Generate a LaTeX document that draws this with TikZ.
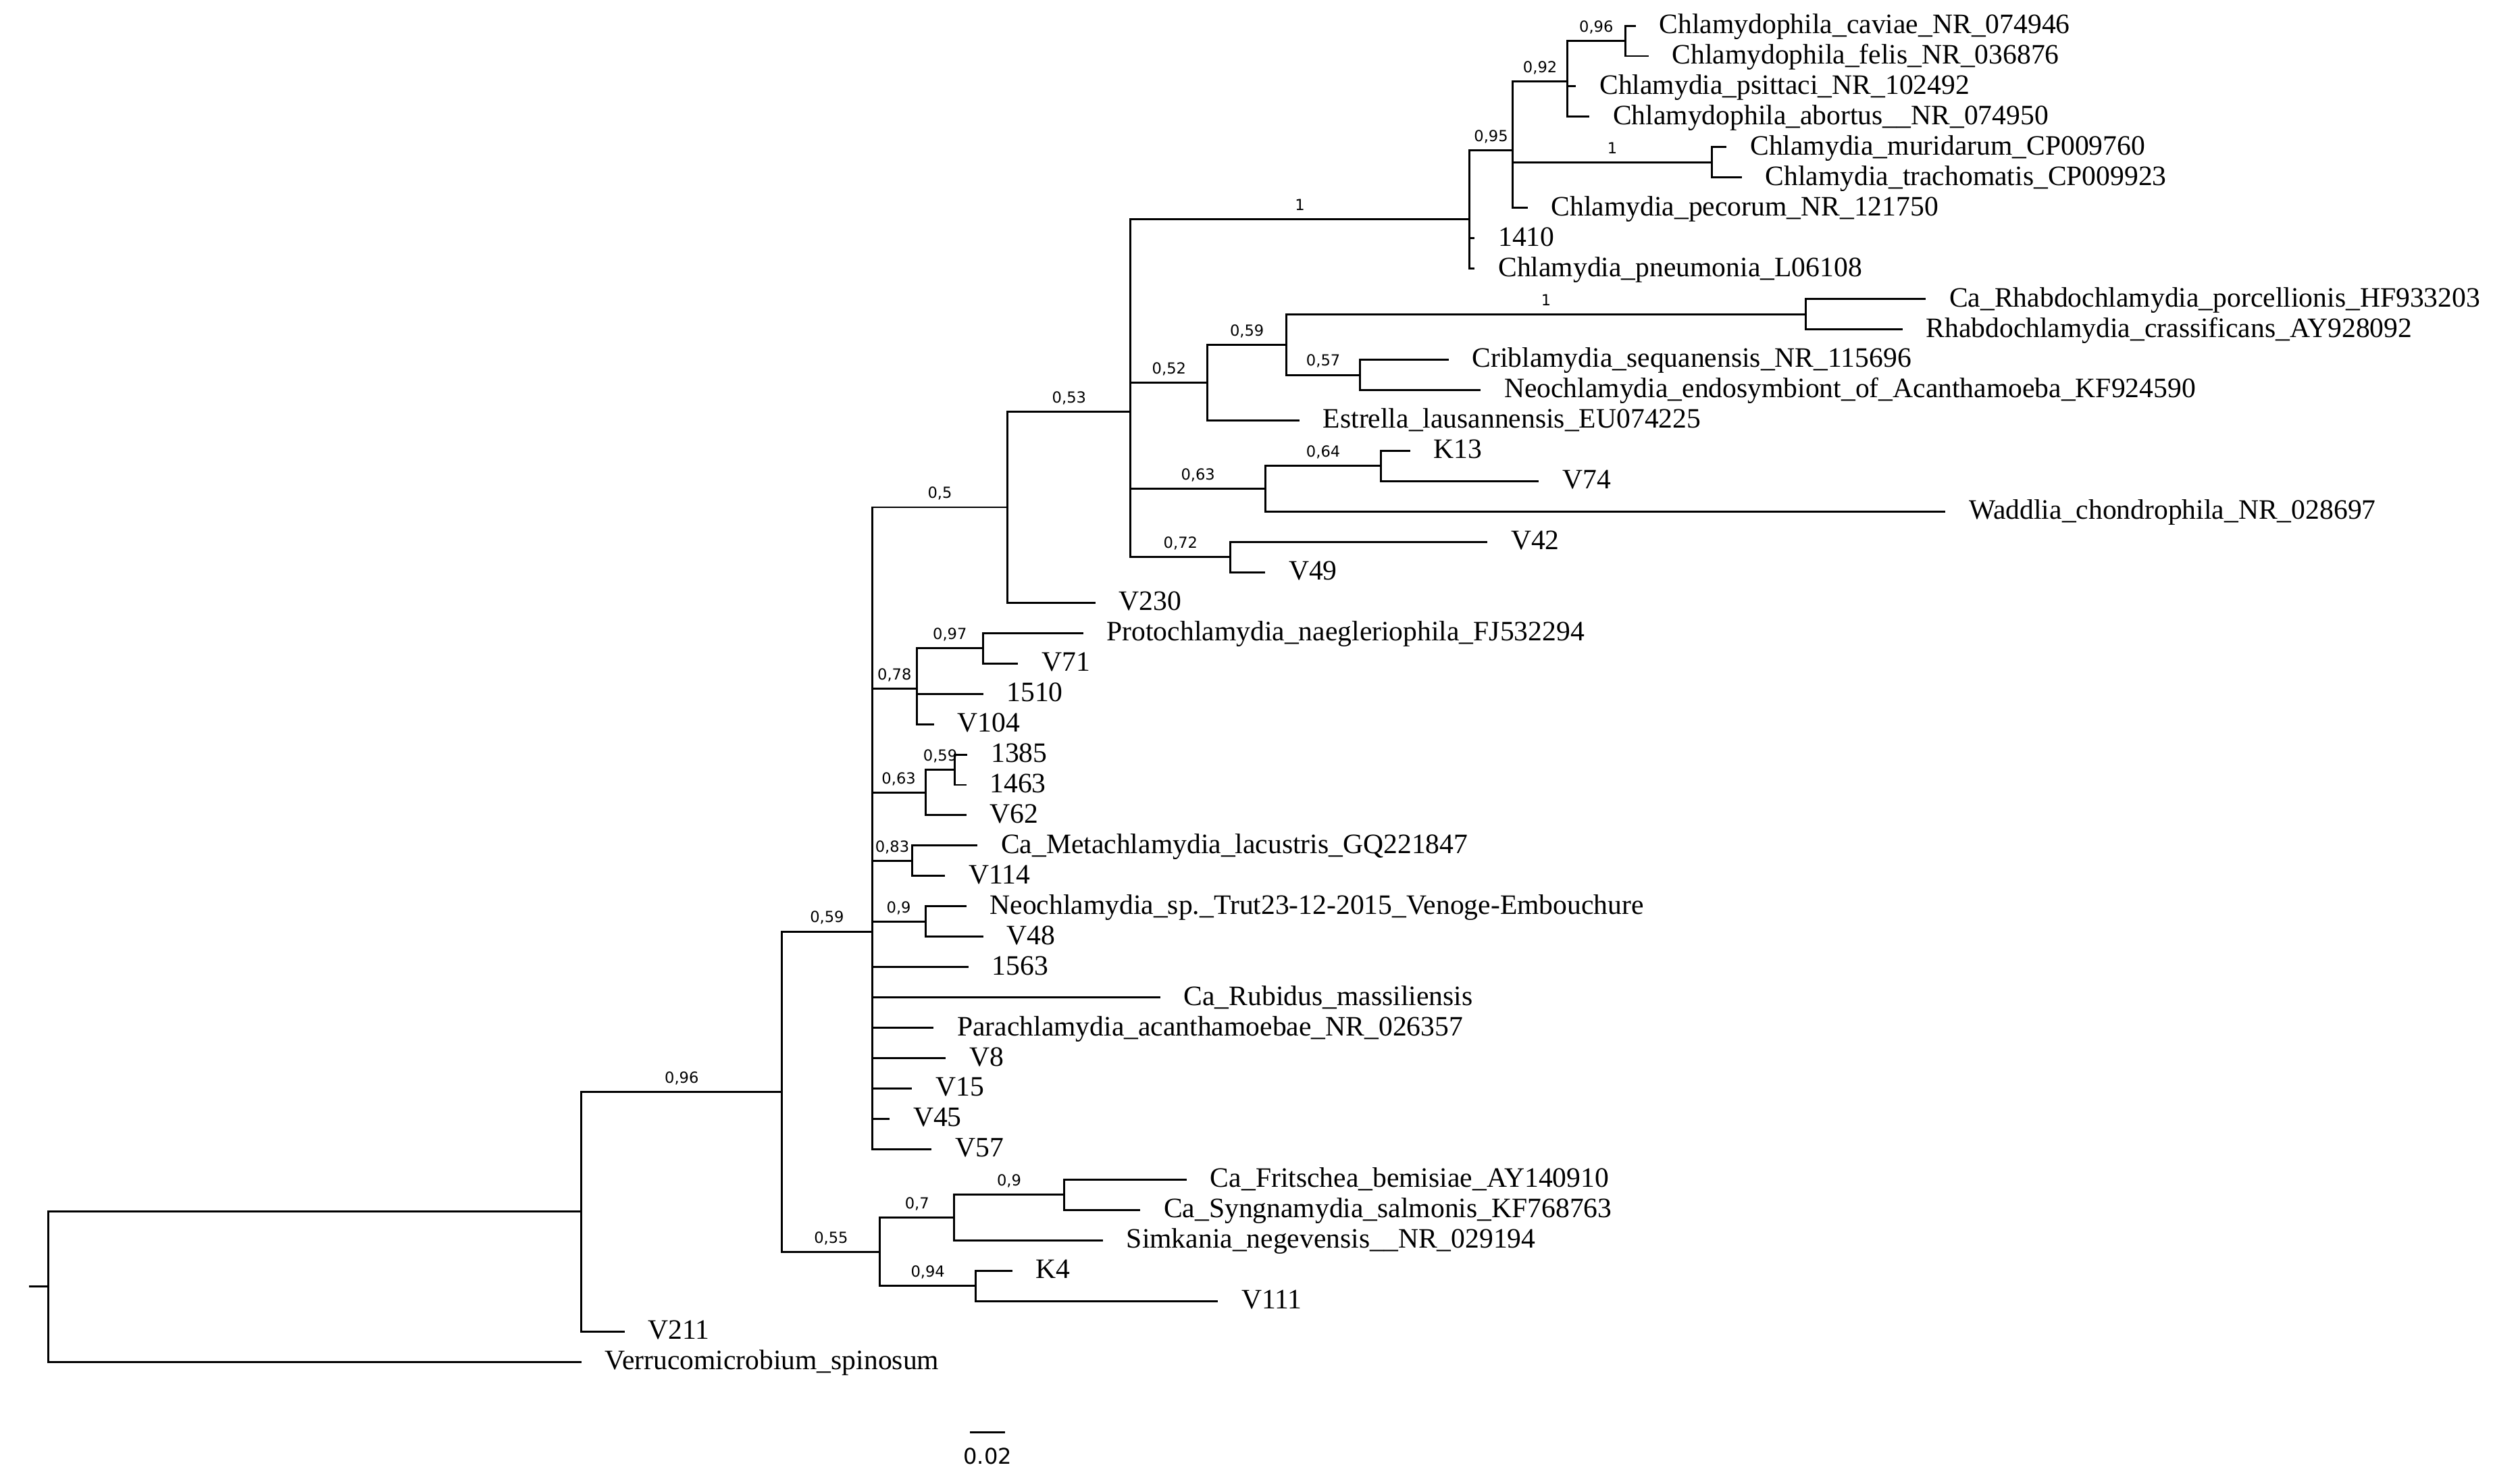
\documentclass[tikz,border=0pt]{standalone}
\usepackage{fontspec}
\setmainfont{Liberation Serif}
\newfontfamily\suppfamily{DejaVu Sans}
\newcommand{\taxonfont}{\fontsize{17.5}{20}\selectfont}
\newcommand{\suppfont}{\suppfamily\fontsize{9.5}{11}\selectfont}
\newcommand{\barfont}{\suppfamily\fontsize{13.5}{15}\selectfont}

\begin{document}
\begin{tikzpicture}[
		x=1pt,y=-1pt,
		clade/.style = {draw, line width=1.25pt, to path={|- (\tikztotarget) \tikztonodes}},
		taxon/.style = {anchor=west, inner xsep=14.5pt, inner ysep=0pt, text height=10pt, text depth=0.4pt, font=\taxonfont},
		supp/.style = {anchor=base, inner sep=0pt, yshift=5.5pt, pos=0.75, font=\suppfont}
	]
	\useasboundingbox (0,0) rectangle (1568,924);

	\coordinate (stub) at (18,801.21);
	\coordinate (root) at (30,801.21);
	\coordinate (nA) at (362,754.42);
	\coordinate (nB) at (487,679.74);
	\coordinate (nC) at (543,580.03);
	\coordinate (nD) at (627.5,315.87);
	\coordinate (nE) at (704,256.48);
	\coordinate (nF) at (915,136.46);
	\coordinate (n095) at (942,93.74);
	\coordinate (n092) at (976,50.67);
	\coordinate (n096) at (1012,25.45);
	\coordinate (nMur) at (1066,101.10);
	\coordinate (n052) at (752,238.18);
	\coordinate (n059a) at (801,214.55);
	\coordinate (nRha) at (1124.6,195.64);
	\coordinate (n057) at (847,233.45);
	\coordinate (n063a) at (788,304.36);
	\coordinate (n064) at (860,290.18);
	\coordinate (n072) at (766.3,346.91);
	\coordinate (n078) at (571,428.85);
	\coordinate (n097) at (612,403.64);
	\coordinate (n063b) at (576.3,493.45);
	\coordinate (n059b) at (594.7,479.27);
	\coordinate (n083) at (568.2,536.00);
	\coordinate (n090a) at (576.3,573.82);
	\coordinate (n055) at (548,779.45);
	\coordinate (n070) at (594.2,758.18);
	\coordinate (n090b) at (662.6,744.00);
	\coordinate (n094) at (607.5,800.73);

	\node (caviae) [taxon] at (1018.6,16.00) {Chlamydophila\_caviae\_NR\_074946};
	\node (felis) [taxon] at (1026.5,34.91) {Chlamydophila\_felis\_NR\_036876};
	\node (psittaci) [taxon] at (981.4,53.82) {Chlamydia\_psittaci\_NR\_102492};
	\node (abortus) [taxon] at (989.7,72.73) {Chlamydophila\_abortus\_\_NR\_074950};
	\node (muridarum) [taxon] at (1075.2,91.64) {Chlamydia\_muridarum\_CP009760};
	\node (trachomatis) [taxon] at (1084.6,110.55) {Chlamydia\_trachomatis\_CP009923};
	\node (pecorum) [taxon] at (951.3,129.45) {Chlamydia\_pecorum\_NR\_121750};
	\node (t1410) [taxon] at (918.3,148.36) {1410};
	\node (pneumonia) [taxon] at (918.3,167.27) {Chlamydia\_pneumonia\_L06108};
	\node (porcellionis) [taxon] at (1199.2,186.18) {Ca\_Rhabdochlamydia\_porcellionis\_HF933203};
	\node (crassificans) [taxon] at (1184.7,205.09) {Rhabdochlamydia\_crassificans\_AY928092};
	\node (criblamydia) [taxon] at (902,224.00) {Criblamydia\_sequanensis\_NR\_115696};
	\node (neoendo) [taxon] at (922,242.91) {Neochlamydia\_endosymbiont\_of\_Acanthamoeba\_KF924590};
	\node (estrella) [taxon] at (809.2,261.82) {Estrella\_lausannensis\_EU074225};
	\node (k13) [taxon] at (878,280.73) {K13};
	\node (v74) [taxon] at (958.3,299.64) {V74};
	\node (waddlia) [taxon] at (1211.5,318.55) {Waddlia\_chondrophila\_NR\_028697};
	\node (v42) [taxon] at (926.2,337.45) {V42};
	\node (v49) [taxon] at (787.8,356.36) {V49};
	\node (v230) [taxon] at (682,375.27) {V230};
	\node (proto) [taxon] at (674.5,394.18) {Protochlamydia\_naegleriophila\_FJ532294};
	\node (v71) [taxon] at (634,413.09) {V71};
	\node (t1510) [taxon] at (612.2,432.00) {1510};
	\node (v104) [taxon] at (581.5,450.91) {V104};
	\node (t1385) [taxon] at (602.4,469.82) {1385};
	\node (t1463) [taxon] at (601.7,488.73) {1463};
	\node (v62) [taxon] at (601.7,507.64) {V62};
	\node (metachl) [taxon] at (608.7,526.55) {Ca\_Metachlamydia\_lacustris\_GQ221847};
	\node (v114) [taxon] at (588.5,545.45) {V114};
	\node (neosp) [taxon] at (601.7,564.36) {Neochlamydia\_sp.\_Trut23-12-2015\_Venoge-Embouchure};
	\node (v48) [taxon] at (612.2,583.27) {V48};
	\node (t1563) [taxon] at (603,602.18) {1563};
	\node (rubidus) [taxon] at (722.5,621.09) {Ca\_Rubidus\_massiliensis};
	\node (parachl) [taxon] at (581.4,640.00) {Parachlamydia\_acanthamoebae\_NR\_026357};
	\node (v8) [taxon] at (589,658.91) {V8};
	\node (v15) [taxon] at (568,677.82) {V15};
	\node (v45) [taxon] at (554,696.73) {V45};
	\node (v57) [taxon] at (580.2,715.64) {V57};
	\node (fritschea) [taxon] at (739,734.55) {Ca\_Fritschea\_bemisiae\_AY140910};
	\node (syngnamydia) [taxon] at (710,753.45) {Ca\_Syngnamydia\_salmonis\_KF768763};
	\node (simkania) [taxon] at (686.8,772.36) {Simkania\_negevensis\_\_NR\_029194};
	\node (k4) [taxon] at (630.4,791.27) {K4};
	\node (v111) [taxon] at (758.4,810.18) {V111};
	\node (v211) [taxon] at (389,829.09) {V211};
	\node (verruco) [taxon] at (362,848.00) {Verrucomicrobium\_spinosum};

	\coordinate (barl) at (604,891.8);
	\coordinate (barr) at (626,891.8);
	\node (bartext) [anchor=base, inner sep=0pt, font=\barfont] at (615,911.5) {0.02};

	\draw [line width=1.25pt] (stub) -- (root);
	\path [clade] (root) edge (nA);
	\path [clade] (root) edge (verruco.west);
	\path [clade] (nA) edge node [supp] {0,96} (nB);
	\path [clade] (nA) edge (v211.west);
	\path [clade] (nB) edge node [supp] {0,59} (nC);
	\path [clade] (nB) edge node [supp] {0,55} (n055);
	\path [clade] (nC) edge node [supp] {0,5} (nD);
	\path [clade] (nD) edge node [supp] {0,53} (nE);
	\path [clade] (nD) edge (v230.west);
	\path [clade] (nE) edge node [supp] {1} (nF);
	\path [clade] (nE) edge node [supp] {0,52} (n052);
	\path [clade] (nE) edge node [supp] {0,63} (n063a);
	\path [clade] (nE) edge node [supp] {0,72} (n072);
	\path [clade] (nF) edge node [supp] {0,95} (n095);
	\path [clade] (nF) edge (t1410.west);
	\path [clade] (nF) edge (pneumonia.west);
	\path [clade] (n095) edge node [supp] {0,92} (n092);
	\path [clade] (n095) edge node [supp] {1} (nMur);
	\path [clade] (n095) edge (pecorum.west);
	\path [clade] (n092) edge node [supp] {0,96} (n096);
	\path [clade] (n092) edge (psittaci.west);
	\path [clade] (n092) edge (abortus.west);
	\path [clade] (n096) edge (caviae.west);
	\path [clade] (n096) edge (felis.west);
	\path [clade] (nMur) edge (muridarum.west);
	\path [clade] (nMur) edge (trachomatis.west);
	\path [clade] (n052) edge node [supp] {0,59} (n059a);
	\path [clade] (n052) edge (estrella.west);
	\path [clade] (n059a) edge node [supp] {1} (nRha);
	\path [clade] (n059a) edge node [supp] {0,57} (n057);
	\path [clade] (nRha) edge (porcellionis.west);
	\path [clade] (nRha) edge (crassificans.west);
	\path [clade] (n057) edge (criblamydia.west);
	\path [clade] (n057) edge (neoendo.west);
	\path [clade] (n063a) edge node [supp] {0,64} (n064);
	\path [clade] (n063a) edge (waddlia.west);
	\path [clade] (n064) edge (k13.west);
	\path [clade] (n064) edge (v74.west);
	\path [clade] (n072) edge (v42.west);
	\path [clade] (n072) edge (v49.west);
	\path [clade] (nC) edge node [supp] {0,78} (n078);
	\path [clade] (n078) edge node [supp] {0,97} (n097);
	\path [clade] (n097) edge (proto.west);
	\path [clade] (n097) edge (v71.west);
	\path [clade] (n078) edge (t1510.west);
	\path [clade] (n078) edge (v104.west);
	\path [clade] (nC) edge node [supp] {0,63} (n063b);
	\path [clade] (n063b) edge node [supp] {0,59} (n059b);
	\path [clade] (n059b) edge (t1385.west);
	\path [clade] (n059b) edge (t1463.west);
	\path [clade] (n063b) edge (v62.west);
	\path [clade] (nC) edge node [supp] {0,83} (n083);
	\path [clade] (n083) edge (metachl.west);
	\path [clade] (n083) edge (v114.west);
	\path [clade] (nC) edge node [supp] {0,9} (n090a);
	\path [clade] (n090a) edge (neosp.west);
	\path [clade] (n090a) edge (v48.west);
	\path [clade] (nC) edge (t1563.west);
	\path [clade] (nC) edge (rubidus.west);
	\path [clade] (nC) edge (parachl.west);
	\path [clade] (nC) edge (v8.west);
	\path [clade] (nC) edge (v15.west);
	\path [clade] (nC) edge (v45.west);
	\path [clade] (nC) edge (v57.west);
	\path [clade] (n055) edge node [supp] {0,7} (n070);
	\path [clade] (n070) edge node [supp] {0,9} (n090b);
	\path [clade] (n090b) edge (fritschea.west);
	\path [clade] (n090b) edge (syngnamydia.west);
	\path [clade] (n070) edge (simkania.west);
	\path [clade] (n055) edge node [supp] {0,94} (n094);
	\path [clade] (n094) edge (k4.west);
	\path [clade] (n094) edge (v111.west);
	\draw [line width=1.25pt] (barl) -- (barr);
\end{tikzpicture}
\end{document}
